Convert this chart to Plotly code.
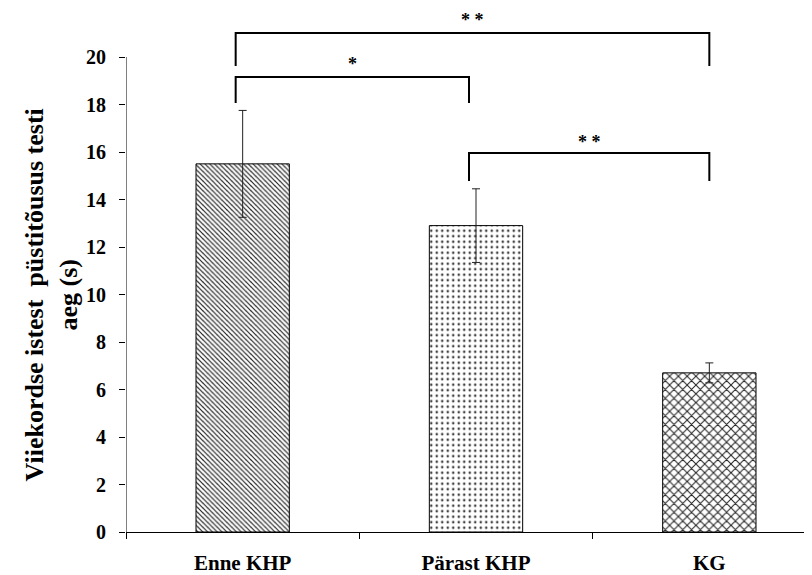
import plotly.graph_objects as go

categories = ["Enne KHP", "Pärast KHP", "KG"]
means = [15.5, 12.9, 6.7]
errors = [2.25, 1.55, 0.42]
patterns = ["\\", ".", "x"]
pattern_sizes = [3.4, 5.5, 6.2]
pattern_solidity = [0.35, 0.17, 0.3]
pattern_colors = ["#222222", "#444444", "#222222"]
y_ticks = list(range(0, 21, 2))

# significance brackets: (left index, right index, label, bar height, leg bottom, label y)
brackets = [
    (0, 2, "* *", 21.01, 19.62, 21.55),
    (0, 1, "*", 19.16, 18.06, 19.72),
    (1, 2, "* *", 15.96, 14.78, 16.43),
]
bracket_offsets = [-0.03, -0.03, 0.0]

FONT = "Liberation Serif"

fig = go.Figure()
for i, cat in enumerate(categories):
    fig.add_trace(go.Bar(
        x=[cat], y=[means[i]],
        width=0.40,
        marker=dict(
            color="white",
            line=dict(color="black", width=1),
            pattern=dict(shape=patterns[i], fgcolor=pattern_colors[i], bgcolor="white",
                         size=pattern_sizes[i], solidity=pattern_solidity[i],
                         fillmode="replace"),
        ),
        error_y=dict(type="data", array=[errors[i]], visible=True,
                     color="#222222", thickness=1, width=4),
        showlegend=False,
    ))

shapes = []
annotations = []
for (a, b, lab, top, bot, ly) in brackets:
    xa = a + bracket_offsets[a]
    xb = b + bracket_offsets[b]
    shapes.append(dict(type="path", xref="x", yref="y",
                       path=f"M {xa},{bot} L {xa},{top} L {xb},{top} L {xb},{bot}",
                       line=dict(color="black", width=2)))
    annotations.append(dict(x=(xa + xb) / 2, y=ly, xref="x", yref="y", text=f"<b>{lab}</b>",
                            showarrow=False, font=dict(family=FONT, size=18, color="black"),
                            yanchor="middle"))

# y axis line only from 0 to 20
shapes.append(dict(type="line", xref="x", yref="y", x0=-0.5, x1=-0.5, y0=0, y1=20,
                   line=dict(color="black", width=1)))

annotations.append(dict(
    x=-0.109, y=0.452, xref="paper", yref="paper",
    text="Viiekordse istest  püstitõusus testi<br>aeg (s)",
    textangle=-90, showarrow=False,
    font=dict(family=FONT, size=26, color="black", weight="bold"),
    xanchor="center", yanchor="middle",
))

fig.update_layout(
    width=812, height=575,
    margin=dict(l=118, r=8, t=0, b=51),
    plot_bgcolor="white", paper_bgcolor="white",
    shapes=shapes, annotations=annotations,
    xaxis=dict(
        type="category", range=[-0.5, 2.44],
        showline=True, linecolor="black", linewidth=1,
        ticks="outside", tickson="boundaries", ticklen=6, tickcolor="black",
        ticklabelstandoff=12,
        tickfont=dict(family=FONT, size=21, color="black", weight="bold"),
        showgrid=False, zeroline=False,
    ),
    yaxis=dict(
        range=[0, 22.063], tickvals=y_ticks,
        showline=False, ticks="outside", ticklen=6, tickcolor="black",
        ticklabelstandoff=9,
        tickfont=dict(family=FONT, size=20, color="black", weight="bold"),
        showgrid=False, zeroline=False,
    ),
)

fig.write_html("out.html")
